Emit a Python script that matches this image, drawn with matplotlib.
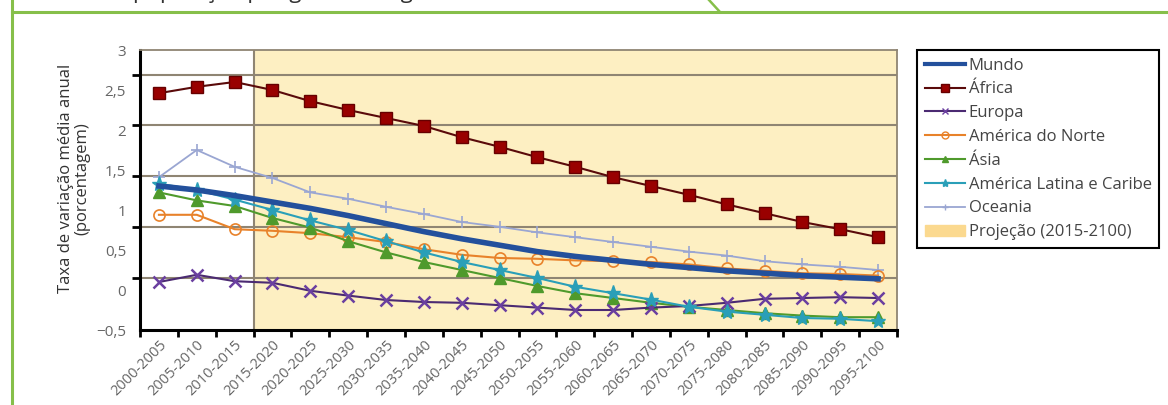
import numpy as np
import matplotlib
matplotlib.use("Agg")
import matplotlib.pyplot as plt
from matplotlib.lines import Line2D
from matplotlib.patches import Patch

plt.rcParams['font.family'] = ['Open Sans', 'DejaVu Sans']

# periods (5-year intervals)
periods = [f"{y}-{y + 5}" for y in range(2000, 2100, 5)]

mundo = [1.30, 1.25, 1.18, 1.10, 1.02, 0.93, 0.83, 0.73, 0.64, 0.56,
         0.48, 0.42, 0.37, 0.32, 0.28, 0.24, 0.21, 0.18, 0.16, 0.14]
africa = [2.46, 2.54, 2.60, 2.50, 2.36, 2.25, 2.15, 2.05, 1.91, 1.79,
          1.66, 1.54, 1.41, 1.30, 1.19, 1.07, 0.96, 0.85, 0.76, 0.66]
europa = [0.10, 0.19, 0.11, 0.09, -0.01, -0.07, -0.125, -0.15, -0.16, -0.19,
          -0.22, -0.25, -0.25, -0.22, -0.20, -0.16, -0.11, -0.10, -0.09, -0.10]
america_norte = [0.94, 0.94, 0.76, 0.74, 0.71, 0.66, 0.60, 0.51, 0.44, 0.40,
                 0.39, 0.37, 0.36, 0.35, 0.32, 0.27, 0.24, 0.21, 0.20, 0.18]
asia = [1.22, 1.12, 1.05, 0.90, 0.78, 0.61, 0.47, 0.35, 0.25, 0.15,
        0.05, -0.04, -0.10, -0.16, -0.21, -0.25, -0.29, -0.32, -0.34, -0.34]
america_latina = [1.33, 1.25, 1.13, 1.00, 0.87, 0.75, 0.61, 0.47, 0.35, 0.25,
                  0.15, 0.04, -0.04, -0.12, -0.21, -0.27, -0.31, -0.35, -0.36, -0.39]
oceania = [1.41, 1.75, 1.54, 1.40, 1.22, 1.14, 1.04, 0.95, 0.85, 0.79,
           0.72, 0.66, 0.60, 0.54, 0.48, 0.43, 0.36, 0.32, 0.29, 0.25]

ytick_vals = [-0.5, 0, 0.5, 1, 1.5, 2, 2.5, 3]
ytick_labels = ["−0,5", "0", "0,5", "1", "1,5", "2", "2,5", "3"]

# grid lines in the original do not sit on the labels
grid_vals = [0.15, 0.79, 1.42, 2.06, 2.69]

green = "#86bf4a"
grid_col = "#8f8573"
shade = "#fdefc2"

fig = plt.figure(figsize=(11.68, 4.05), dpi=100)
ax = fig.add_axes([140 / 1168, 75 / 405, 757 / 1168, 280 / 405])

x = np.arange(len(periods))

ax.axvspan(2.5, len(periods) - 0.5, color=shade, zorder=0)
ax.axvline(2.5, color=grid_col, lw=1.5, zorder=1)
for g in grid_vals:
    ax.axhline(g, color=grid_col, lw=1.5, zorder=1)

ax.plot(x, oceania, color="#9aa6d2", lw=1.3, marker="+", ms=9, mew=1.2, zorder=3)
ax.plot(x, america_norte, color="#e8822a", lw=1.5, marker="o", ms=8,
        mfc="none", mew=1.2, zorder=3)
ax.plot(x, asia, color="#4f9a2c", lw=1.5, marker="^", ms=8, zorder=3)
ax.plot(x, america_latina, color="#2a9fb8", lw=1.5, marker="*", ms=11, zorder=4)
ax.plot(x, europa, color="#4b2a72", lw=1.5, marker="x", ms=9, mew=1.8,
        mec="#6a3fa0", zorder=3)
ax.plot(x, mundo, color="#23509c", lw=4, zorder=5)
ax.plot(x, africa, color="#5a0a0a", lw=1.5, marker="s", ms=9,
        mfc="#990000", mec="#660000", zorder=5)

ax.set_xlim(-0.5, len(periods) - 0.5)
ax.set_ylim(-0.5, 3)

ax.set_xticks(x)
ax.set_xticklabels(periods, rotation=45, ha="right", rotation_mode="anchor",
                   fontsize=10.5, color="#666666")
ax.set_xticks(np.arange(-0.5, len(periods), 1), minor=True)
ax.tick_params(axis="x", which="major", length=0, pad=5)
ax.tick_params(axis="x", which="minor", length=5, width=2, direction="out", color="black")

ax.set_yticks(ytick_vals)
ax.set_yticklabels(ytick_labels, fontsize=11, color="#666666")
ax.set_yticks(grid_vals + [-0.5, 3], minor=True)
ax.tick_params(axis="y", which="major", length=0, pad=10)
ax.tick_params(axis="y", which="minor", length=6, width=2, direction="out", color="black")

for side in ["left", "bottom"]:
    ax.spines[side].set_linewidth(2.2)
    ax.spines[side].set_color("black")
for side in ["top", "right"]:
    ax.spines[side].set_linewidth(1.3)
    ax.spines[side].set_color(grid_col)

ax.set_ylabel("Taxa de variação média anual\n(porcentagem)", fontsize=12,
              color="#333333", linespacing=1.0)
ax.yaxis.set_label_coords(-0.066, 0.54)

handles = [
    Line2D([], [], color="#23509c", lw=3),
    Line2D([], [], color="#5a0a0a", lw=1.5, marker="s", ms=6, mfc="#990000", mec="#660000"),
    Line2D([], [], color="#4b2a72", lw=1.5, marker="x", ms=5, mec="#6a3fa0"),
    Line2D([], [], color="#e8822a", lw=1.5, marker="o", ms=5, mfc="none"),
    Line2D([], [], color="#4f9a2c", lw=1.5, marker="^", ms=5),
    Line2D([], [], color="#2a9fb8", lw=1.5, marker="*", ms=6),
    Line2D([], [], color="#9aa6d2", lw=1.3, marker="+", ms=5),
    Patch(color="#fbd98f"),
]
labels = ["Mundo", "África", "Europa", "América do Norte", "Ásia",
          "América Latina e Caribe", "Oceania", "Projeção (2015-2100)"]
leg = fig.legend(handles, labels, loc="upper left",
                 bbox_to_anchor=(917 / 1168, 1 - 50 / 405),
                 fontsize=12, frameon=True, fancybox=False, framealpha=1,
                 edgecolor="black", handlelength=2.4, handletextpad=0.25,
                 labelspacing=0.47, borderpad=0.45, borderaxespad=0)
leg.get_frame().set_linewidth(1.5)
for t in leg.get_texts():
    t.set_color("#444444")

# green frame of the box
fig.add_artist(Line2D([12 / 1168, 1], [1 - 12 / 405, 1 - 12 / 405], color=green, lw=2.2))
fig.add_artist(Line2D([12 / 1168, 12 / 1168], [0, 1], color=green, lw=2.2))
fig.add_artist(Line2D([709 / 1168, 720 / 1168], [1, 1 - 12 / 405], color=green, lw=1.8))

# title, cut off at the top edge as in the source scan
fig.text(133 / 1168, 1 + 2 / 405, "população por grandes regiões", fontsize=16,
         color="#333333", va="baseline")

fig.savefig("out.png", dpi=100)
